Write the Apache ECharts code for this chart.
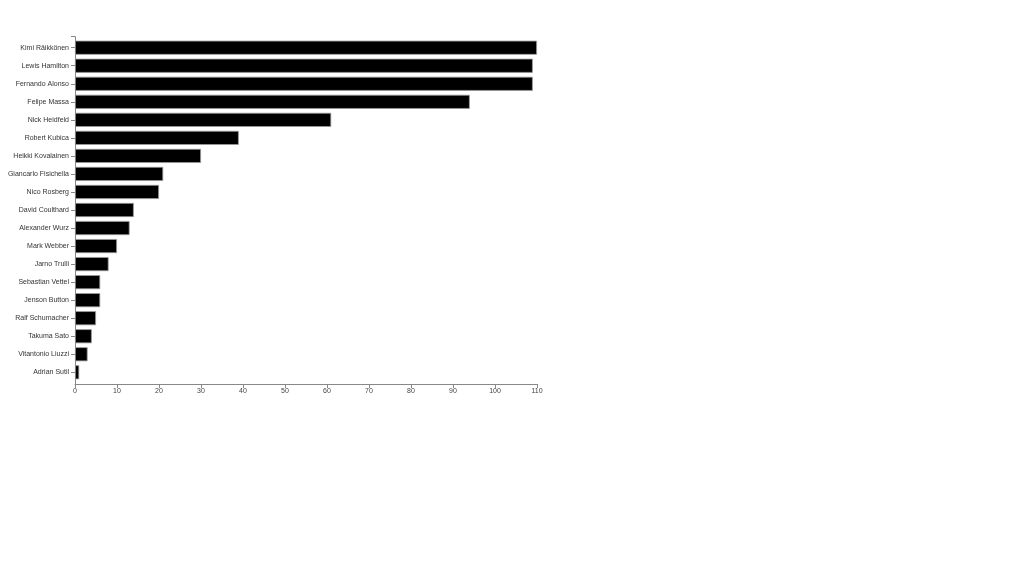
<!DOCTYPE html>
<html><head><meta charset="utf-8">
<script src="https://cdn.jsdelivr.net/npm/echarts@6/dist/echarts.min.js"></script>
<style>html,body{margin:0;padding:0;background:#fff}#c{width:1024px;height:576px}</style>
</head><body><div id="c"></div>
<script>
const drivers = ["Kimi Räikkönen","Lewis Hamilton","Fernando Alonso","Felipe Massa","Nick Heidfeld","Robert Kubica","Heikki Kovalainen","Giancarlo Fisichella","Nico Rosberg","David Coulthard","Alexander Wurz","Mark Webber","Jarno Trulli","Sebastian Vettel","Jenson Button","Ralf Schumacher","Takuma Sato","Vitantonio Liuzzi","Adrian Sutil"];
const points = [110,109,109,94,61,39,30,21,20,14,13,10,8,6,6,5,4,3,1];
const xTicks = [0,10,20,30,40,50,60,70,80,90,100,110];

// layout
const L = 75, R = 537, AXTOP = 36, AXBOT = 384, PAD = 2.7;
const axisColor = '#888';

const chart = echarts.init(document.getElementById('c'));
chart.setOption({
  animation:false,
  grid:{left:L,top:AXTOP+PAD,right:1024-R,bottom:576-AXBOT+PAD,containLabel:false},
  xAxis:{type:'value',min:0,max:110,interval:10,offset:PAD,
    axisLine:{show:true,lineStyle:{color:axisColor,width:1}},
    axisTick:{show:true,length:4,lineStyle:{color:axisColor}},
    axisLabel:{fontSize:7,color:'#444',margin:4,fontFamily:'Liberation Sans, Arial, sans-serif',
      formatter:v=>xTicks.includes(v)?String(v):''},
    splitLine:{show:false}},
  yAxis:{type:'category',data:drivers,inverse:true,
    axisLine:{show:false},
    axisTick:{show:true,length:4,alignWithLabel:true,lineStyle:{color:axisColor}},
    axisLabel:{fontSize:7,color:'#333',margin:6,fontFamily:'Liberation Sans, Arial, sans-serif'}},
  graphic:[{type:'polyline',silent:true,
    shape:{points:[[L-4,AXTOP+0.5],[L+0.5,AXTOP+0.5],[L+0.5,AXBOT]]},
    style:{stroke:axisColor,lineWidth:1,fill:null}}],
  series:[{type:'bar',data:points,barCategoryGap:'22%',
    itemStyle:{color:'#000',borderColor:'#999',borderWidth:0.8}}]
});
</script></body></html>
